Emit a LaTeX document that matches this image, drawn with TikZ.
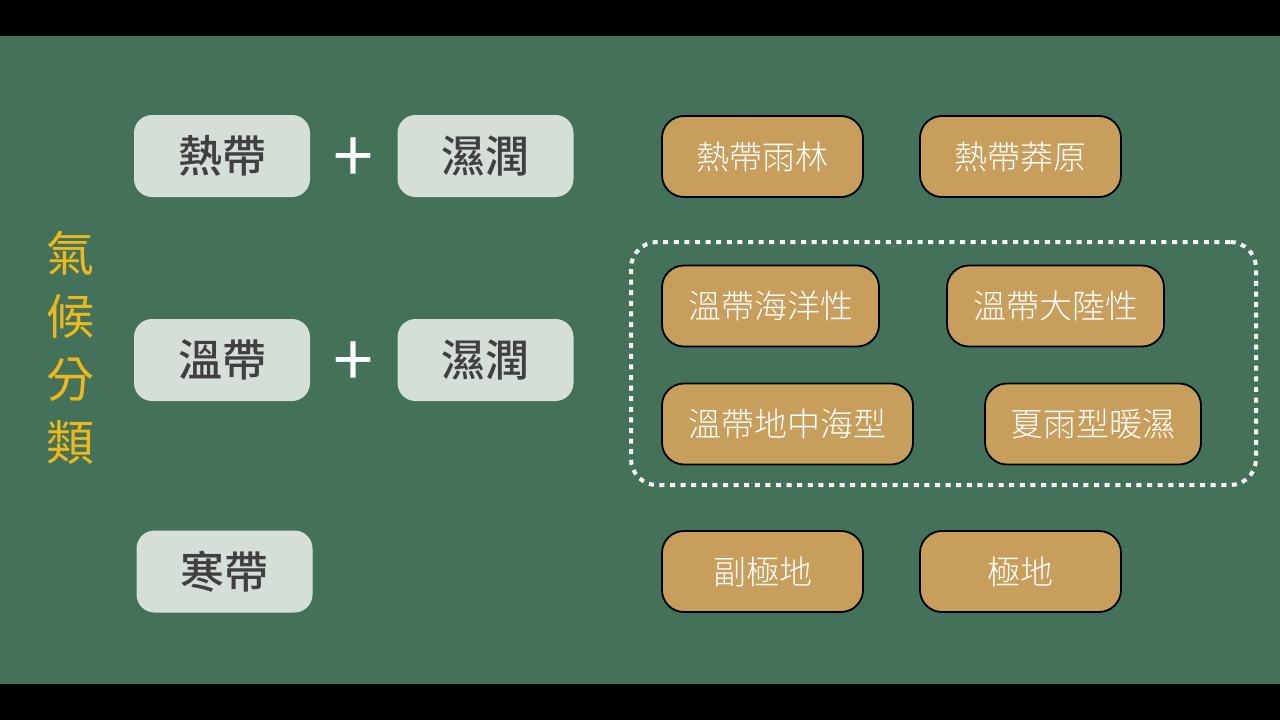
\documentclass[tikz,border=0pt]{standalone}
\usepackage{fontspec}
\setmainfont{Noto Sans CJK TC}[BoldFont={Noto Sans CJK TC Medium}]
\newfontfamily\thinfont{Noto Sans CJK TC Light}
\usetikzlibrary{positioning}
\definecolor{boardGreen}{RGB}{68, 113, 89}
\definecolor{boardGold}{RGB}{236, 184, 30}
\definecolor{chipGray}{RGB}{214, 222, 216}
\definecolor{chipText}{RGB}{64, 64, 64}
\definecolor{chipTan}{RGB}{200, 158, 92}

\begin{document}
\begin{tikzpicture}[x=1pt, y=-1pt,
        zone/.style={rectangle, fill=chipGray, rounded corners=18pt, minimum width=176pt, minimum height=82pt, text=chipText, font=\fontsize{44}{50}\selectfont\bfseries},
        climate/.style={rectangle, draw=black, line width=1.8pt, fill=chipTan, rounded corners=22pt, minimum height=81pt, text=white, font=\fontsize{33}{40}\selectfont\thinfont},
        plus/.style={text=white, font=\fontsize{72}{76}\selectfont},
        frame/.style={draw=white, line width=4pt, dash pattern=on 5pt off 5.6pt, rounded corners=26pt, minimum width=625pt, minimum height=243pt}
      ]
        \fill[black] (0,0) rectangle (1280,720);
        \fill[boardGreen] (0,36) rectangle (1280,684);
        % title
        \node[text=boardGold, align=center, font=\fontsize{48}{63}\selectfont] (title) at (70,348) {氣\\候\\分\\類};
        % left side
        \node[zone] (hot) at (222,156) {熱帶};
        \node[plus] (plusA) at (353,160) {+};
        \node[zone] (wetA) at (485.5,156) {濕潤};
        \node[zone] (warm) at (222,360) {溫帶};
        \node[plus] (plusB) at (353,364) {+};
        \node[zone] (wetB) at (485.5,360) {濕潤};
        \node[zone] (cold) at (224.5,571.5) {寒帶};
        % right side
        \node[frame] (wetgroup) at (943.5,363.5) {};
        \node[climate, minimum width=201pt] (rain) at (762.5,156.5) {熱帶雨林};
        \node[climate, minimum width=201pt] (savanna) at (1020.5,156.5) {熱帶莽原};
        \node[climate, minimum width=217pt] (ocean) at (770.5,306) {溫帶海洋性};
        \node[climate, minimum width=217pt] (land) at (1055.5,306) {溫帶大陸性};
        \node[climate, minimum width=251pt] (medit) at (787.5,424) {溫帶地中海型};
        \node[climate, minimum width=216pt] (summer) at (1093,424) {夏雨型暖濕};
        \node[climate, minimum width=201pt] (subpolar) at (762.5,571.5) {副極地};
        \node[climate, minimum width=201pt] (polar) at (1020.5,571.5) {極地};
      \end{tikzpicture}
\end{document}
